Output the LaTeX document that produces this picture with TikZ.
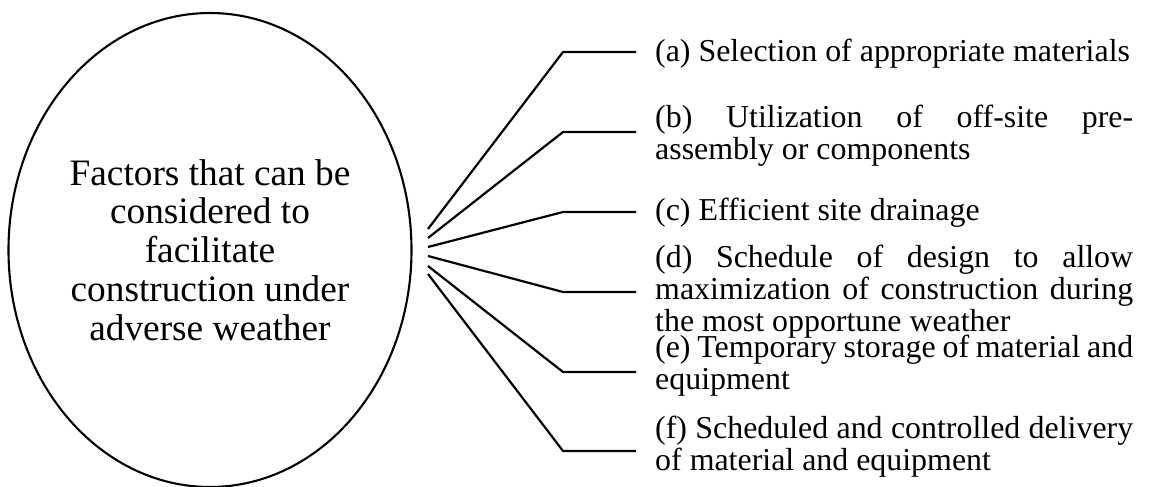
\documentclass[tikz,border=0pt]{standalone}
\usepackage{fontspec}
\setmainfont{Liberation Serif}
\newfontfamily\itemfont{Liberation Serif}
\newfontfamily\ellfont{Liberation Serif}
\usetikzlibrary{shapes.geometric}
\newcommand{\itembox}[1]{\parbox[t]{478pt}{\hyphenpenalty=10000 #1}}
\begin{document}
\begin{tikzpicture}[x=1pt,y=-1pt,
  wire/.style={line width=2.2pt, line join=miter},
  item/.style={anchor=base west, inner sep=0pt, font=\itemfont\fontsize{31.9}{32}\selectfont},
  hub/.style={draw, ellipse, line width=2.1pt, minimum width=403pt, minimum height=474pt,
    inner sep=0pt, align=center, font=\ellfont\fontsize{37.3}{38.8}\selectfont}]
\useasboundingbox (0,0) rectangle (1151,487);
\clip (0,0) rectangle (1151,487);

\node[hub] (hub) at (210,250) {Factors that can be\\considered to\\facilitate\\construction under\\adverse weather};

% fan origins
\coordinate (oa) at (428,229);
\coordinate (ob) at (428,238);
\coordinate (oc) at (428,247);
\coordinate (od) at (428,256);
\coordinate (oe) at (428,266);
\coordinate (of) at (428,274);
% bends
\coordinate (ba) at (563,52);
\coordinate (bb) at (563,132);
\coordinate (bc) at (563,212);
\coordinate (bd) at (563,292);
\coordinate (be) at (563,372);
\coordinate (bf) at (563,451);
% ends
\coordinate (ea) at (636,52);
\coordinate (eb) at (636,132);
\coordinate (ec) at (636,212);
\coordinate (ed) at (636,292);
\coordinate (ee) at (636,372);
\coordinate (ef) at (636,451);

\draw[wire] (oa) -- (ba) -- (ea);
\draw[wire] (ob) -- (bb) -- (eb);
\draw[wire] (oc) -- (bc) -- (ec);
\draw[wire] (od) -- (bd) -- (ed);
\draw[wire] (oe) -- (be) -- (ee);
\draw[wire] (of) -- (bf) -- (ef);

\node[item] (ta) at (655,62) {\itembox{(a) Selection of appropriate materials}};
\node[item] (tb) at (655,127) {\itembox{(b) Utilization of off-site pre-\linebreak assembly or components}};
\node[item] (tc) at (655,220) {\itembox{(c) Efficient site drainage}};
\node[item] (td) at (655,267) {\itembox{(d) Schedule of design to allow\linebreak maximization of construction during\linebreak the most opportune weather}};
\node[item] (te) at (655,357) {\itembox{(e) Temporary storage of material and\linebreak equipment}};
\node[item] (tf) at (655,438) {\itembox{(f) Scheduled and controlled delivery\linebreak of material and equipment}};
\end{tikzpicture}
\end{document}
